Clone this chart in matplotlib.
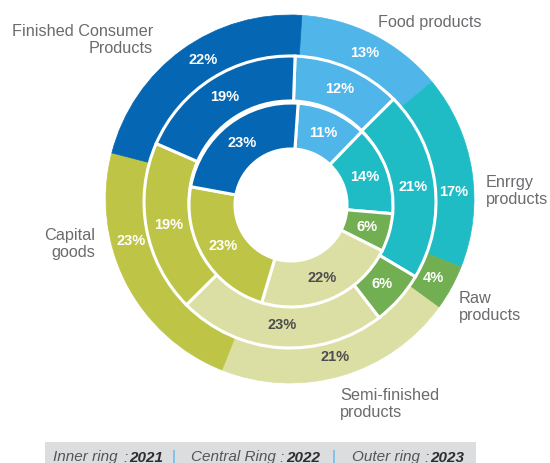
import matplotlib
matplotlib.use("Agg")
import numpy as np
import matplotlib.pyplot as plt
from matplotlib.patches import Rectangle

# Shares by product type, clockwise from the top
categories = ["Food products", "Enrrgy\nproducts", "Raw\nproducts",
              "Semi-finished\nproducts", "Capital\ngoods",
              "Finished Consumer\nProducts"]
colors = ["#50B5E9", "#20BCC6", "#72AF52", "#DCDFA3", "#BEC546", "#0567B3"]

inner_2021 = [11, 14, 6, 22, 23, 23]
central_2022 = [12, 21, 6, 23, 19, 19]
outer_2023 = [13, 17, 4, 21, 23, 22]

W, H = 550, 463


def px(x, y):
    # pixel coords (origin top-left) -> axes data coords
    return x, H - y


fig = plt.figure(figsize=(W / 100, H / 100), dpi=100)
ax = fig.add_axes([0, 0, 1, 1])

label_font = "Liberation Sans"

# clockwise shift (deg) of some outer percent labels so they sit clear
outer_nudge = [0, 6.5, 0, 0, 12, 4]
no_nudge = [0] * 6

rings = [
    # values, centre, radius, width, start angle, white separators, nudges
    (outer_2023, px(290, 199), 184, 40, 86.3, False, outer_nudge),
    (central_2022, px(290, 202), 146, 45, 88.0, True, no_nudge),
    (inner_2021, px(291, 205), 102, 46, 86.0, True, no_nudge),
]

for values, center, radius, width, start, sep, nudge in rings:
    if sep:
        wp = dict(width=width, edgecolor="white", linewidth=2.2)
    else:
        wp = dict(width=width, linewidth=0)
    wedges, _ = ax.pie(values, colors=colors, radius=radius, center=center,
                       startangle=start, counterclock=False, wedgeprops=wp)
    if not sep:
        # hide seams between the outer wedges
        for w in wedges:
            w.set_edgecolor(w.get_facecolor())
            w.set_linewidth(0.5)
    r_mid = radius - width / 2
    for i, (w, v) in enumerate(zip(wedges, values)):
        a = np.deg2rad((w.theta1 + w.theta2) / 2 - nudge[i])
        tx = center[0] + r_mid * np.cos(a)
        ty = center[1] + r_mid * np.sin(a)
        col = "#4D4D4F" if i == 3 else "white"
        ax.text(tx, ty, f"{v}%", ha="center", va="center", fontsize=10.5,
                fontweight="bold", color=col, family=label_font)

# category names around the outside
cat_pos = [
    (378, 22, "left"),
    (486, 191, "left"),
    (459, 307, "left"),
    (340, 404, "left"),
    (95, 244, "right"),
    (153, 40, "right"),
]
for name, (x, y, ha) in zip(categories, cat_pos):
    ax.text(*px(x, y), name, ha=ha, va="center", fontsize=11.7,
            color="#6A6B6E", family=label_font, linespacing=1.1,
            multialignment=ha)

# year key along the bottom
ax.add_patch(Rectangle(px(45, 463), 431, 21, facecolor="#DCDDDF",
                       edgecolor="none"))
key_parts = [
    (53, "Inner ring", "normal", "#555558"),
    (123, ":", "normal", "#555558"),
    (129, "2021", "bold", "#2E2E30"),
    (172, "|", "normal", "#50B5E9"),
    (191, "Central Ring", "normal", "#555558"),
    (279, ":", "normal", "#555558"),
    (286, "2022", "bold", "#2E2E30"),
    (332, "|", "normal", "#50B5E9"),
    (352, "Outer ring", "normal", "#555558"),
    (424, ":", "normal", "#555558"),
    (430, "2023", "bold", "#2E2E30"),
]
for x, s, wt, col in key_parts:
    style = "normal" if s == "|" else "italic"
    ax.text(*px(x, 461.5), s, ha="left", va="baseline", fontsize=11,
            fontweight=wt, fontstyle=style, color=col, family=label_font)

ax.set_xlim(0, W)
ax.set_ylim(0, H)
ax.set_aspect("auto")
ax.axis("off")

fig.savefig("out.png", dpi=100)
